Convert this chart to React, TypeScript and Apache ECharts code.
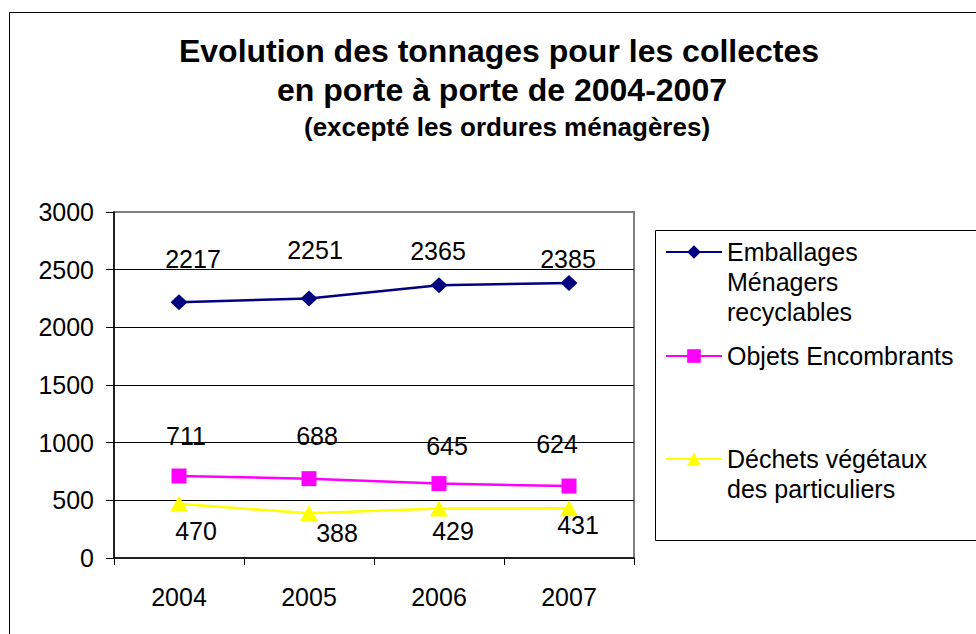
import React, { useEffect, useRef } from "react";
import * as echarts from "echarts";

const YEARS = ["2004", "2005", "2006", "2007"];
const SERIES_NAMES = [
  "Emballages Ménagers recyclables",
  "Objets Encombrants",
  "Déchets végétaux des particuliers",
];
const LEGEND_LABELS = [
  "Emballages\nMénagers\nrecyclables",
  "Objets Encombrants",
  "Déchets végétaux\ndes particuliers",
];
const TITLE_LINES = [
  "Evolution des tonnages pour les collectes",
  "en porte à porte de 2004-2007",
  "(excepté les ordures ménagères)",
];
const EMBALLAGES = [2217, 2251, 2365, 2385];
const ENCOMBRANTS = [711, 688, 645, 624];
const VEGETAUX = [470, 388, 429, 431];
const Y_TICKS = [0, 500, 1000, 1500, 2000, 2500, 3000];

// label placement (style only), relative to each marker centre
const LABEL_OFFSETS = [
  [[14, -43], [6, -48], [-1, -34], [-1, -24]],
  [[7, -40], [8, -43], [8, -38], [-12, -42]],
  [[17, 27], [28, 20], [14, 22], [9, 17]],
];

const FONT = "'Liberation Sans', Arial, Helvetica, sans-serif";
const COLORS = ["#000080", "#FF00FF", "#FFFF00"];
const SYMBOLS = ["diamond", "rect", "triangle"];
const SYMBOL_SIZES: any[] = [[17, 16], [15, 15], [18, 16]];

export default function App() {
  const ref = useRef<HTMLDivElement>(null);

  useEffect(() => {
    if (!ref.current) return;
    const chart = echarts.init(ref.current, null, { renderer: "svg" });
    const values = [EMBALLAGES, ENCOMBRANTS, VEGETAUX];
    const lineHeight = 30;
    const legendCenters = [252, 356, 459];

    const legends = SERIES_NAMES.map((name, i) => {
      const lines = LEGEND_LABELS[i].split("\n").length;
      const half = (2 * lines - 1) * lineHeight / 2;
      return {
        orient: "vertical",
        left: 665,
        top: legendCenters[i] - half,
        padding: 0,
        itemWidth: 56,
        itemHeight: 17,
        selectedMode: false,
        data: [name],
        formatter: (n: string) => {
          const label = LEGEND_LABELS[SERIES_NAMES.indexOf(n)];
          const k = label.split("\n").length;
          return "\n".repeat(k - 1) + label;
        },
        textStyle: {
          fontFamily: FONT,
          fontSize: 25,
          lineHeight,
          color: "#000",
        },
      };
    });

    const titleSpecs = [
      { x: 499, y: 51.3, size: 32 },
      { x: 502, y: 90.3, size: 32 },
      { x: 507, y: 126.8, size: 26 },
    ];

    const option: any = {
      animation: false,
      backgroundColor: "#fff",
      textStyle: { fontFamily: FONT },
      legend: legends,
      graphic: [
        {
          type: "rect",
          shape: { x: 9.5, y: 12.5, width: 1000, height: 700 },
          style: { fill: "none", stroke: "#000", lineWidth: 1 },
          silent: true,
          z: -1,
        },
        {
          type: "rect",
          shape: { x: 655.5, y: 230.5, width: 400, height: 310 },
          style: { fill: "none", stroke: "#000", lineWidth: 1 },
          silent: true,
        },
        ...TITLE_LINES.map((t, i) => ({
          type: "text",
          x: titleSpecs[i].x,
          y: titleSpecs[i].y,
          silent: true,
          style: {
            text: t,
            fill: "#000",
            font: `bold ${titleSpecs[i].size}px ${FONT}`,
            align: "center",
            verticalAlign: "middle",
          },
        })),
      ],
      grid: {
        left: 114,
        right: 342,
        top: 212,
        bottom: 76,
        show: true,
        borderColor: "#808080",
        borderWidth: 2,
        backgroundColor: "transparent",
      },
      xAxis: {
        type: "category",
        data: YEARS,
        boundaryGap: true,
        axisLine: { show: true, lineStyle: { color: "#000", width: 1.5 } },
        axisTick: { show: true, length: 7, lineStyle: { color: "#000", width: 1 } },
        axisLabel: { fontSize: 25, color: "#000", margin: 26, fontFamily: FONT },
        splitLine: { show: false },
      },
      yAxis: {
        type: "value",
        min: Y_TICKS[0],
        max: Y_TICKS[Y_TICKS.length - 1],
        interval: Y_TICKS[1] - Y_TICKS[0],
        axisLine: { show: true, lineStyle: { color: "#000", width: 1.5 } },
        axisTick: { show: true, length: 8, lineStyle: { color: "#000", width: 1 } },
        axisLabel: {
          fontSize: 25,
          color: "#000",
          margin: 20,
          fontFamily: FONT,
          formatter: (v: number) => String(v),
        },
        splitLine: {
          show: true,
          showMinLine: false,
          showMaxLine: false,
          lineStyle: { color: "#000", width: 1 },
        },
      },
      series: SERIES_NAMES.map((name, k) => ({
        name,
        type: "line",
        data: values[k].map((v, i) => ({
          value: v,
          label: { offset: LABEL_OFFSETS[k][i] },
        })),
        symbol: SYMBOLS[k],
        symbolSize: SYMBOL_SIZES[k],
        showAllSymbol: true,
        color: COLORS[k],
        lineStyle: { color: COLORS[k], width: 2.5 },
        itemStyle: { color: COLORS[k] },
        emphasis: { disabled: true },
        label: {
          show: true,
          position: "inside",
          fontSize: 25,
          fontFamily: FONT,
          color: "#000",
        },
        z: 3 - k,
      })),
    };

    chart.setOption(option);
    return () => chart.dispose();
  }, []);

  return (
    <div
      ref={ref}
      style={{ position: "fixed", left: 0, top: 0, width: 976, height: 634 }}
    />
  );
}
